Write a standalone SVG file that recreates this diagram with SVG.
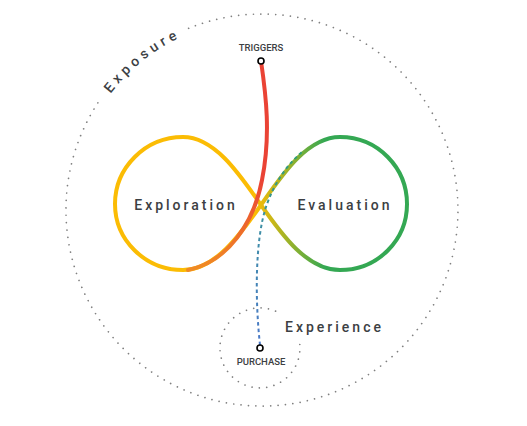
<svg xmlns="http://www.w3.org/2000/svg" width="527" height="426" viewBox="0 0 527 426">
  <style>
    .dots { fill: none; stroke: #808080; stroke-width: 1.7; stroke-linecap: round; stroke-dasharray: 0.01 7.4; }
    .big { font-family: Roboto, "Liberation Sans", sans-serif; font-weight: 500; font-size: 14px; letter-spacing: 3px; fill: #3c4043; }
    .small { font-family: Roboto, "Liberation Sans", sans-serif; font-weight: 500; font-size: 9.5px; fill: #3c4043; text-anchor: middle; }
    .pt { fill: #ffffff; stroke: #000000; stroke-width: 1.6; }
  </style>
  <defs>
    <linearGradient id="infGrad" gradientUnits="userSpaceOnUse" x1="255" y1="0" x2="325" y2="0">
      <stop offset="0" stop-color="#FBBC04"/>
      <stop offset="1" stop-color="#34A853"/>
    </linearGradient>
    <linearGradient id="redGrad" gradientUnits="userSpaceOnUse" x1="0" y1="180" x2="0" y2="268">
      <stop offset="0" stop-color="#EA4335"/>
      <stop offset="1" stop-color="#F08A24"/>
    </linearGradient>
    <linearGradient id="blueGrad" gradientUnits="userSpaceOnUse" x1="0" y1="345" x2="0" y2="150">
      <stop offset="0" stop-color="#4A78C8"/>
      <stop offset="0.6" stop-color="#3F8FA6"/>
      <stop offset="1" stop-color="#2FA070"/>
    </linearGradient>
    <path id="expoArc" d="M 96.6 114.5 A 191 191 0 0 1 228.8 21.9"/>
  </defs>

  <g id="exposure">
    <path class="dots" d="M 188.6 28.3 A 196 196 0 1 1 99.5 100.4"/>
    <text class="big" style="letter-spacing:4.2px"><textPath href="#expoArc" startOffset="25">Exposure</textPath></text>
  </g>

  <g id="experience">
    <path class="dots" d="M 299.8 344.5 A 40 40 0 1 1 276.9 311.7"/>
    <text class="big" x="285" y="332">Experience</text>
  </g>

  <g id="loop">
    <path fill="none" stroke="url(#infGrad)" stroke-width="4" d="M 261 205 C 240 175, 215 137, 183 137 C 145 137, 115 168, 115 204 C 115 240, 145 270, 183 270 C 215 270, 240 235, 261 205 C 282 175, 307 137, 340 137 C 378 137, 407 168, 407 204 C 407 240, 378 270, 340 270 C 307 270, 282 235, 261 205 Z"/>
  </g>

  <g id="connectors">
    <path fill="none" stroke="url(#redGrad)" stroke-width="4" stroke-linecap="round" d="M 261 61 C 266 95, 271 135, 262 180 C 254 222, 228 262, 188 270"/>
    <path fill="none" stroke="url(#blueGrad)" stroke-width="2" stroke-dasharray="3.5 3" d="M 260 345 C 255 300, 255 240, 266 207 C 274 183, 287 165, 302 152"/>
  </g>

  <g id="exploration">
    <text class="big" x="186" y="210" text-anchor="middle">Exploration</text>
  </g>
  <g id="evaluation">
    <text class="big" x="345" y="210" text-anchor="middle">Evaluation</text>
  </g>

  <g id="triggers">
    <text class="small" x="261" y="51">TRIGGERS</text>
    <circle class="pt" cx="261" cy="61" r="3"/>
  </g>
  <g id="purchase">
    <circle class="pt" cx="260" cy="348" r="3"/>
    <text class="small" x="261" y="365">PURCHASE</text>
  </g>
</svg>
